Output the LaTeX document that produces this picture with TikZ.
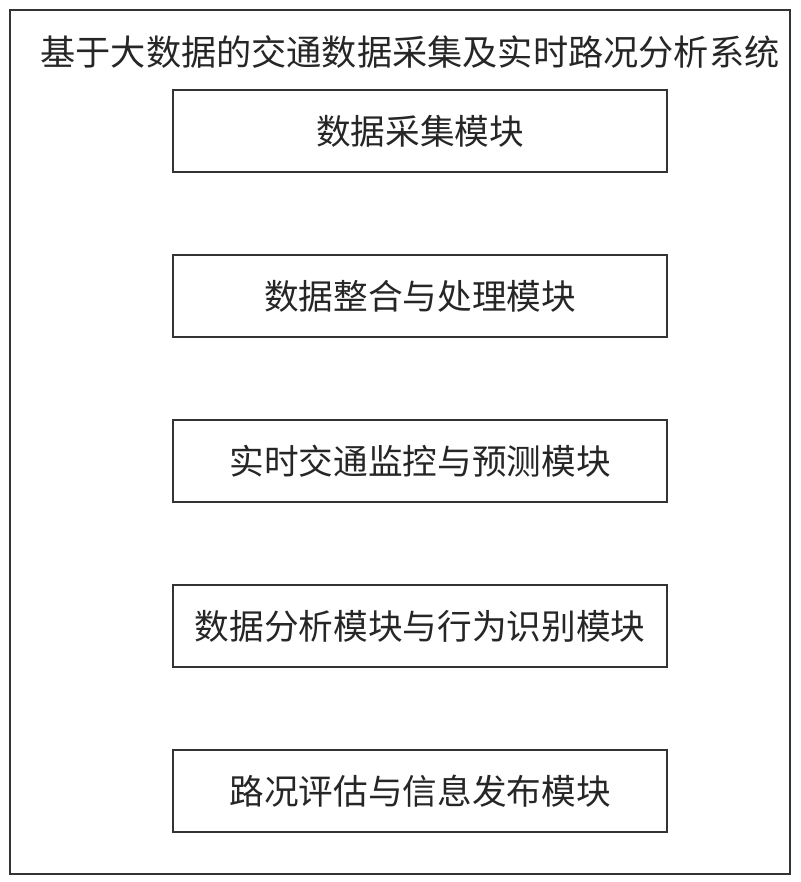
\documentclass[tikz,border=0pt]{standalone}
\usepackage{fontspec}
\newfontfamily\cjk{Noto Sans CJK SC}
\usetikzlibrary{positioning}
\begin{document}
\begin{tikzpicture}[x=0.75pt,y=-0.75pt,node distance=61.15pt,
	module/.style={draw=black!80,line width=1.1pt,minimum width=370.5pt,minimum height=61.5pt,inner sep=0pt,font=\cjk\fontsize{26}{28}\selectfont,text=black!85},
	frame/.style={draw=black!80,line width=1.1pt}]
	\useasboundingbox (0,0) rectangle (800,882);
	\draw[frame] (10,10) rectangle (790,874);
	\node[font=\cjk\fontsize{26.4}{28}\selectfont,text=black!85] (title) at (410,52) {基于大数据的交通数据采集及实时路况分析系统};

	\node[module] (collect) at (420,131) {数据采集模块};
	\node[module,below=of collect] (merge) {数据整合与处理模块};
	\node[module,below=of merge] (monitor) {实时交通监控与预测模块};
	\node[module,below=of monitor] (analyse) {数据分析模块与行为识别模块};
	\node[module,below=of analyse] (publish) {路况评估与信息发布模块};
\end{tikzpicture}
\end{document}
